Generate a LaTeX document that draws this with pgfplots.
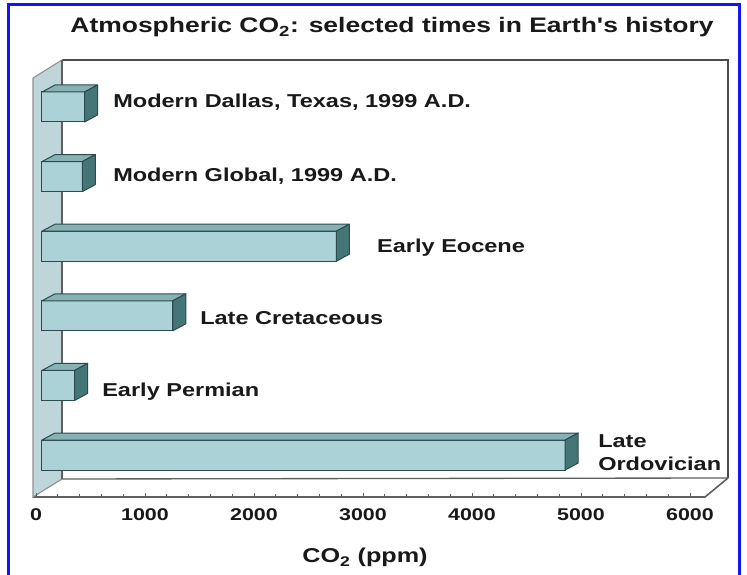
\documentclass[border=0pt]{standalone}
\usepackage{fontspec}
\usepackage{graphicx}
\usepackage{pgfplots}
\usepackage{pgfplotstable}
\pgfplotsset{compat=1.18}
\newfontfamily\chartfont{Liberation Sans}[FakeStretch=1.26]
\definecolor{frontc}{RGB}{170,210,215}
\definecolor{topc}{RGB}{135,178,180}
\definecolor{sidec}{RGB}{68,118,120}
\definecolor{edgec}{RGB}{45,75,78}
\definecolor{wallc}{RGB}{190,214,218}
\definecolor{framec}{RGB}{95,95,95}
\definecolor{labc}{RGB}{25,25,25}
\definecolor{borderblue}{RGB}{20,20,245}
\pgfplotstableread{
pos co2
5 390
4 370
3 2700
2 1200
1 300
0 4800
}\codata
\tikzset{lab/.style={font=\chartfont\bfseries\fontsize{14}{16}\selectfont, text=labc, inner sep=0pt, anchor=base west}}
\begin{document}
\begin{tikzpicture}
\begin{scope}[x=0.75pt,y=0.75pt]
\useasboundingbox (0,0) rectangle (747,575);
\fill[white] (0,0) rectangle (747,575);
% blue frame
\draw[line width=2.25pt, borderblue] (8,0) -- (8,570) -- (739,570) -- (739,0);
% title
\node[anchor=base, font=\chartfont\bfseries\fontsize{15.75}{18}\selectfont, text=labc, inner sep=0pt] at (392,542) {Atmospheric CO\textsubscript{2}: selected times in Earth's history};
% back wall
\draw[framec, line width=1.5pt] (62,96) -- (62,515);
\draw[framec!80!black, line width=1.8pt] (62,515) -- (728,515) -- (728,97);
% floor
\draw[framec, line width=1pt] (62,96) -- (728,97);
\draw[framec, line width=1.2pt] (33,78) -- (705,78) -- (728,97);
% left wall
\filldraw[fill=wallc, draw=framec!70, line width=0.8pt] (33,78) -- (62,96) -- (62,515) -- (33,497) -- cycle;
\draw[framec, line width=1.5pt] (62,96) -- (62,515);
\end{scope}
\begin{axis}[
  at={(31.5pt,58.5pt)}, anchor=south west,
  scale only axis, width=490.5pt, height=327.75pt,
  xmin=0, xmax=6000, ymin=-0.6034, ymax=5.6753,
  axis line style={draw=none},
  clip=false,
  ytick=\empty,
  xtick={0,1000,...,6000},
  xticklabels={0,1000,2000,3000,4000,5000,6000},
  xtick pos=left,
  tick align=inside,
  minor x tick num=4,
  major tick length=3pt, minor tick length=2.25pt,
  every tick/.style={draw=framec, line width=0.6pt, xshift=-4.5pt},
  xticklabel style={font=\chartfont\bfseries\fontsize{12.75}{14}\selectfont, text=labc, xshift=-4.5pt, yshift=-5.5pt},
  xlabel={CO\textsubscript{2} (ppm)},
  xlabel style={at={(axis description cs:0.5,0)}, anchor=base, yshift=-49.5pt, xshift=-3pt, font=\chartfont\bfseries\fontsize{15}{17}\selectfont, text=labc},
  bar width=22.5pt,
]
\addplot[xbar, fill=frontc, draw=edgec, line width=0.75pt] table[x=co2, y=pos]{\codata};
\addplot[only marks, mark=*, mark size=0pt, draw=none, fill=none,
  scatter, point meta=x,
  visualization depends on={\thisrow{co2}\as\barval},
  scatter/@pre marker code/.code={%
    \pgfmathsetmacro\L{\barval*0.08175}%
    \filldraw[fill=topc, draw=edgec, line width=0.75pt, line join=round]
      (-\L pt,11.25pt) -- (0pt,11.25pt) -- (9.75pt,16.5pt) -- (9.75pt-\L pt,16.5pt) -- cycle;
    \filldraw[fill=sidec, draw=edgec, line width=0.75pt, line join=round]
      (0pt,-11.25pt) -- (9.75pt,-6pt) -- (9.75pt,16.5pt) -- (0pt,11.25pt) -- cycle;
  },
  scatter/@post marker code/.code={}]
  table[x=co2, y=pos]{\codata};
\node[lab, xshift=21.4pt, yshift=-0.75pt] at (axis cs:390,5) {Modern Dallas, Texas, 1999 A.D.};
\node[lab, xshift=23pt, yshift=-4pt] at (axis cs:370,4) {Modern Global, 1999 A.D.};
\node[lab, xshift=30.5pt, yshift=-5.1pt] at (axis cs:2700,3) {Early Eocene};
\node[lab, xshift=20.4pt, yshift=-6.4pt] at (axis cs:1200,2) {Late Cretaceous};
\node[lab, xshift=20.5pt, yshift=-8.7pt] at (axis cs:300,1) {Early Permian};
\node[lab, xshift=24.6pt, yshift=6pt] at (axis cs:4800,0) {Late};
\node[lab, xshift=24.6pt, yshift=-11.25pt] at (axis cs:4800,0) {Ordovician};
\end{axis}
\end{tikzpicture}
\end{document}
